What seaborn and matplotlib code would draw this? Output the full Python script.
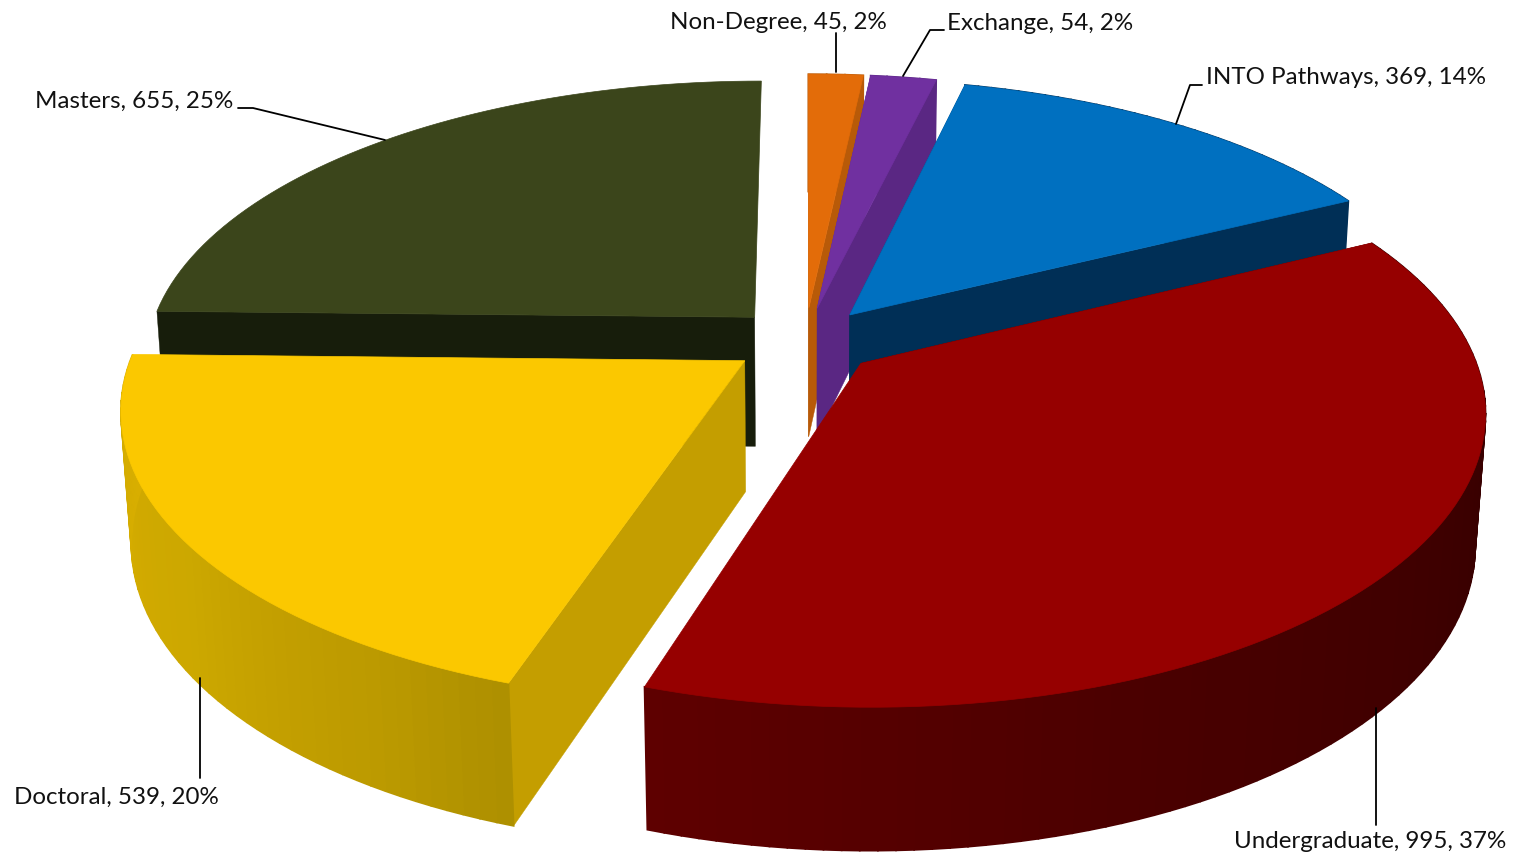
import numpy as np
import matplotlib
matplotlib.use("Agg")
import matplotlib.pyplot as plt
import seaborn as sns

categories = ["Non-Degree", "Exchange", "INTO Pathways", "Undergraduate", "Doctoral", "Masters"]
values = [45, 54, 369, 995, 539, 655]
percents = [2, 2, 14, 37, 20, 25]

top_colors = ["#E36C09", "#7030A0", "#0070C0", "#960000", "#FBC800", "#3B451B"]
cut_colors = ["#B85A08", "#5A2783", "#002F56", "#3C0000", "#C49E00", "#171D0B"]
wall_stops = [["#B85A08", "#B85A08"], ["#5A2783", "#5A2783"], ["#002F56", "#002F56"],
              ["#300000", "#3A0000", "#480000", "#5E0000"],
              ["#AE9000", "#BC9A00", "#C4A000", "#CCA800", "#D0A900", "#D4AC00", "#D8AE00"],
              ["#171D0B", "#171D0B"]]
draw_order = [0, 1, 2, 5, 3, 4]
show_end_face = [True, True, True, False, False, False]
show_wall = [True, True, True, True, True, False]

CX, CY = 805, 341
AX, AY = 608, 281
KX, KY = 0.155, 0.16
H, MX, MY = 134, 0.015, 0.03
EXPLODE = 0.12

sns.set_theme(style="white")
plt.rcParams["font.family"] = ["Lato", "DejaVu Sans"]
fig, ax = plt.subplots(figsize=(15.2, 8.57), dpi=100)
ax.set_position([0, 0, 1, 1])
ax.set_xlim(0, 1520)
ax.set_ylim(857, 0)
ax.axis("off")


def project(u, v, z):
    return (CX + AX * u / (1 + KX * v + MX * z),
            CY + (H * z - AY * v) / (1 + KY * v + MY * z))


fracs = np.array(values) / sum(values)
edges = np.concatenate([[0], np.cumsum(fracs)]) * 2 * np.pi

for i in draw_order:
    t0, t1 = edges[i], edges[i + 1]
    mid = (t0 + t1) / 2
    ou, ov = EXPLODE * np.sin(mid), EXPLODE * np.cos(mid)
    th = np.linspace(t0, t1, max(4, int((t1 - t0) * 40)))
    u, v = ou + np.sin(th), ov + np.cos(th)
    # radial cut faces
    for t, show in ((t0, True), (t1, show_end_face[i])):
        if not show:
            continue
        a, b = (ou, ov), (ou + np.sin(t), ov + np.cos(t))
        pts = [project(*a, 0), project(*b, 0), project(*b, 1), project(*a, 1)]
        ax.fill(*zip(*pts), color=cut_colors[i], lw=0.3, zorder=1)
    # outer wall, shaded strip by strip
    if show_wall[i]:
        strip_colors = sns.blend_palette(wall_stops[i], len(th) - 1)
        for j in range(len(th) - 1):
            pts = [project(u[j], v[j], 0), project(u[j + 1], v[j + 1], 0),
                   project(u[j + 1], v[j + 1], 1), project(u[j], v[j], 1)]
            ax.fill(*zip(*pts), facecolor=strip_colors[j], edgecolor=strip_colors[j], lw=1.2, zorder=1)
    # top face
    sx, sy = project(np.r_[ou, u], np.r_[ov, v], 0)
    ax.fill(sx, sy, facecolor=top_colors[i], edgecolor=top_colors[i], lw=0.5, zorder=1)

labels = [f"{c}, {n}, {p}%" for c, n, p in zip(categories, values, percents)]
label_pos = [(670, 22), (947, 23), (1206, 77), (1234, 842), (14, 797), (35, 101)]
leaders = [[(836, 33), (836, 72)], [(944, 30), (930, 30), (903, 76)],
           [(1202, 85), (1190, 85), (1176, 124)], [(1376, 825), (1376, 708)],
           [(200, 778), (200, 678)], [(238, 108), (253, 108), (385, 140)]]
for lab, (x, y), ln in zip(labels, label_pos, leaders):
    ax.text(x, y, lab, ha="left", va="center", fontsize=17.4, color="#111111", zorder=5)
    ax.plot(*zip(*ln), color="black", lw=1.3, zorder=4)

fig.savefig("out.png", dpi=100)
